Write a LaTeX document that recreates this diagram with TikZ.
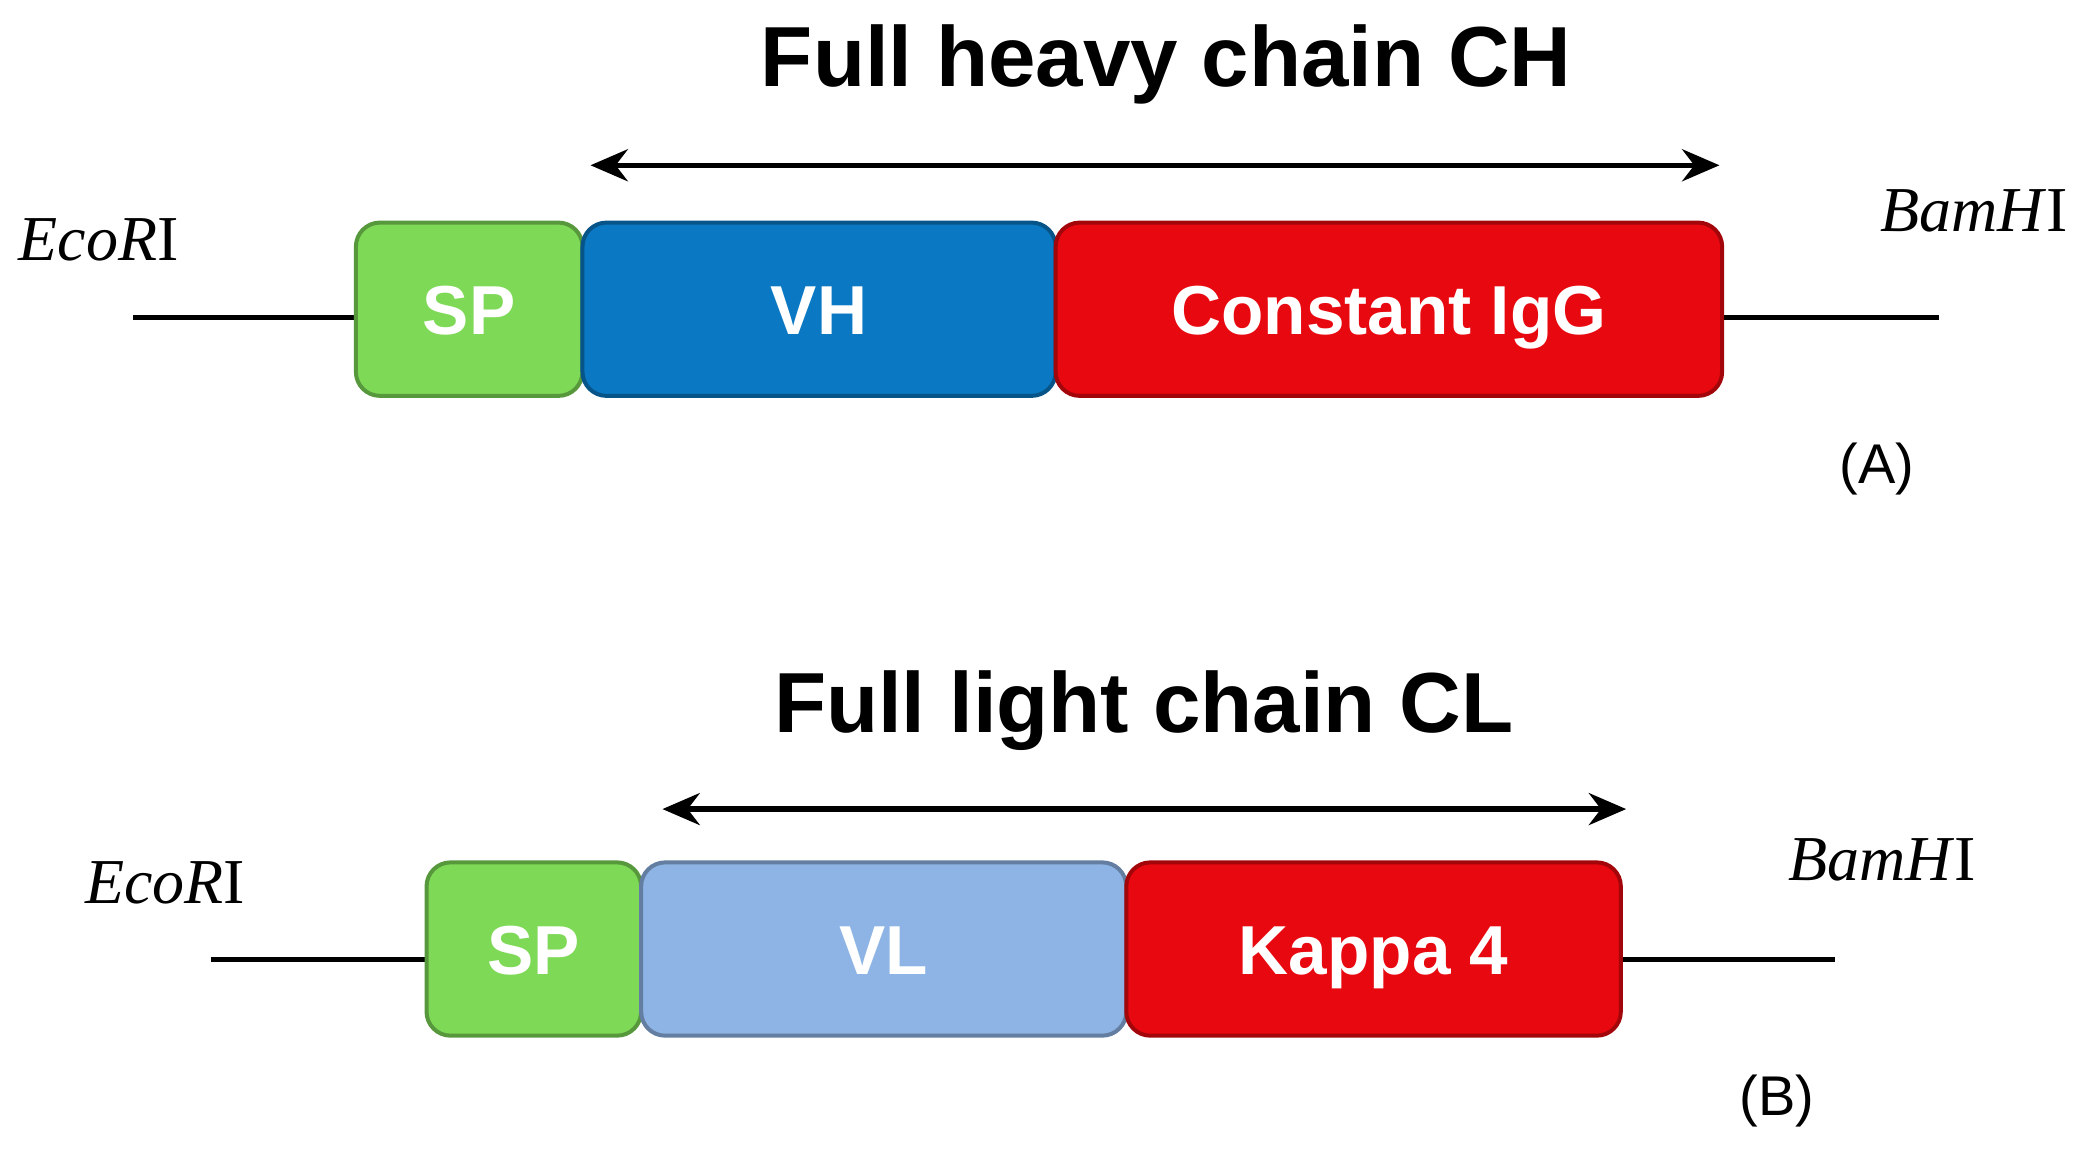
\documentclass[tikz,border=0pt]{standalone}
\usepackage{fontspec}
\setmainfont{Liberation Sans}
\newfontfamily\serifx{Liberation Serif}
\usetikzlibrary{arrows.meta}
\definecolor{gr}{HTML}{7ED957}
\definecolor{bl}{HTML}{0A78C2}
\definecolor{rd}{HTML}{E8080F}
\definecolor{lb}{HTML}{8DB4E4}
\begin{document}
\begin{tikzpicture}[x=0.5pt,y=-0.5pt,
 box/.style={draw=#1!70!black,line width=1.5pt,fill=#1,rounded corners=9pt,text=white,font=\bfseries\fontsize{26}{30}\selectfont,text height=19pt,text depth=0pt},
 ttl/.style={font=\bfseries\fontsize{32}{34}\selectfont},
 site/.style={font=\serifx\fontsize{24}{28}\selectfont},
 lbl/.style={font=\fontsize{21}{24}\selectfont},
 dbl/.style={{Stealth[length=14pt,width=12pt]}-{Stealth[length=14pt,width=12pt]},line width=2pt},
 dna/.style={line width=2pt}]
\useasboundingbox (0,0) rectangle (1568,871);
% (A)
\node[ttl] (t1) at (875,48) {Full heavy chain CH};
\coordinate (a1l) at (443,124); \coordinate (a1r) at (1290,124);
\draw[dna] (100,238) coordinate (l1) -- (268,238);
\draw[dna] (1290,238) -- (1455,238) coordinate (r1);
\node[box=gr,minimum width=170pt*0.5,minimum height=130pt*0.5] (sp1) at (352,232) {SP};
\node[box=bl,minimum width=355pt*0.5,minimum height=130pt*0.5] (vh) at (614.5,232) {VH};
\node[box=rd,minimum width=500pt*0.5,minimum height=130pt*0.5] (cg) at (1042,232) {Constant IgG};
\draw[dna,dbl] (a1l) -- (a1r);
\node[site] (e1) at (74,180) {\textit{Eco}\textit{R}I};
\node[site] (b1) at (1481,158) {\textit{BamH}I};
\node[lbl] (A) at (1408,352) {(A)};
% (B)
\node[ttl] (t2) at (858,533) {Full light chain CL};
\coordinate (a2l) at (497,607); \coordinate (a2r) at (1220,607);
\draw[dna] (158,720) -- (322,720);
\draw[dna] (1214,720) -- (1377,720);
\node[box=gr,minimum width=161pt*0.5,minimum height=130pt*0.5] (sp2) at (400.5,712) {SP};
\node[box=lb,minimum width=364pt*0.5,minimum height=130pt*0.5] (vl) at (663,712) {VL};
\node[box=rd,minimum width=371pt*0.5,minimum height=130pt*0.5] (kp) at (1030.5,712) {Kappa 4};
\draw[dna,dbl] (a2l) -- (a2r);
\node[site] (e2) at (124,662) {\textit{Eco}\textit{R}I};
\node[site] (b2) at (1412,645) {\textit{BamH}I};
\node[lbl] (B) at (1333,826) {(B)};
\end{tikzpicture}
\end{document}
